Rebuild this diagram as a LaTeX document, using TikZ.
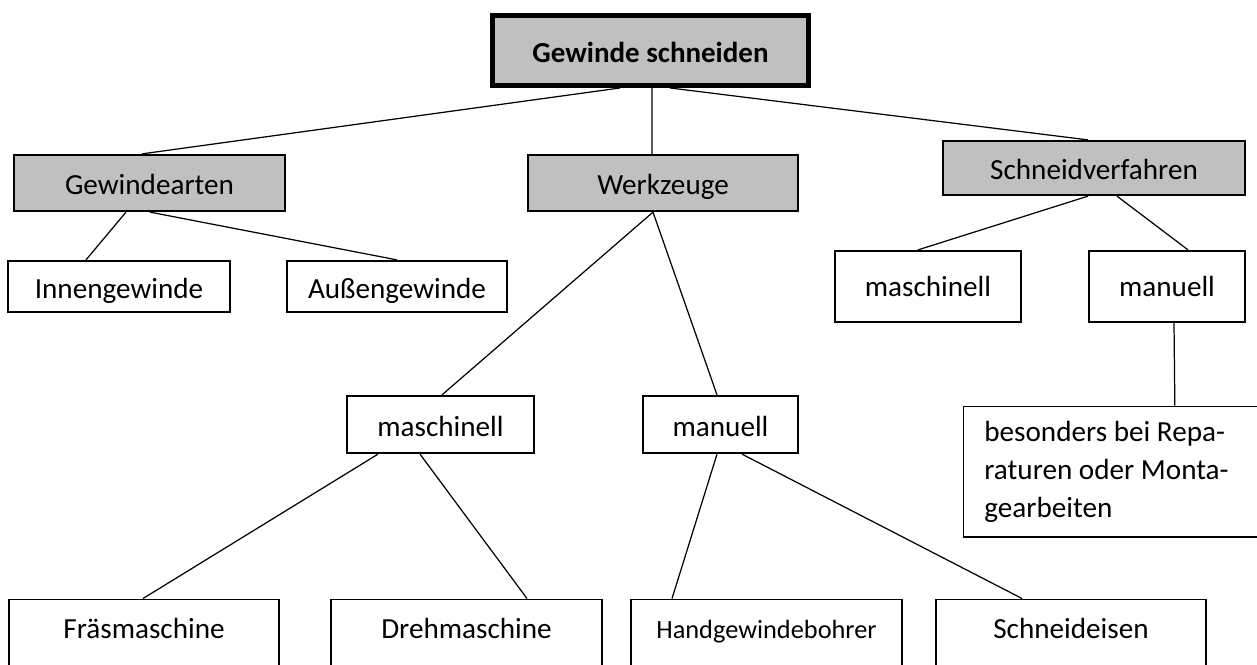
\documentclass[tikz,border=0pt]{standalone}
\usepackage{fontspec}
\setmainfont{Carlito}
\definecolor{kastengrau}{RGB}{192,192,192}
\begin{document}
\begin{tikzpicture}[x=0.02cm,y=-0.02cm,line width=0.7pt,
  kasten/.style={draw,line width=1pt,inner sep=0pt,text height=0.58cm,text depth=0.12cm,
    font=\fontsize{16.6pt}{20.5pt}\selectfont},
  grau/.style={kasten,fill=kastengrau},
  hoch/.style={text height=0.55cm,text depth=0.17cm},
  unten/.style={kasten,anchor=north,minimum width=#1,text height=0.48cm,text depth=1.6cm,
    inner ysep=0.3cm}]
\useasboundingbox (0,0) rectangle (1257,664);
% oberste Ebene
\node (titel) at (650.5,50.5) [grau,line width=2.8pt,minimum width=6.32cm,minimum height=1.4cm,
  font=\fontsize{16.5pt}{20pt}\selectfont\bfseries] {Gewinde schneiden};
\node (arten) at (149.5,183) [grau,minimum width=5.43cm,minimum height=1.13cm] {Gewindearten};
\node (werkzeuge) at (663,183) [grau,minimum width=5.41cm,minimum height=1.13cm] {Werkzeuge};
\node (verfahren) at (1094,168) [grau,minimum width=6.05cm,minimum height=1.09cm] {Schneidverfahren};
% Gewindearten
\node (innen) at (119,286.5) [kasten,minimum width=4.45cm,minimum height=1.03cm] {Innengewinde};
\node (aussen) at (397,286.5) [kasten,minimum width=4.41cm,minimum height=1.03cm] {Außengewinde};
% Schneidverfahren
\node (vmasch) at (928,286.5) [kasten,hoch,minimum width=3.73cm,minimum height=1.43cm] {maschinell};
\node (vman) at (1167,286.5) [kasten,hoch,minimum width=3.13cm,minimum height=1.43cm] {manuell};
\node (besonders) at (962.5,405.5) [kasten,anchor=north west,align=flush left,text width=5.6cm,
  text height=,text depth=,inner xsep=0.42cm,minimum height=2.62cm,
  font=\fontsize{16.6pt}{21.6pt}\selectfont] {besonders bei Repa-\\raturen oder Monta-\\gearbeiten};
% Werkzeuge
\node (wmasch) at (440.5,424.5) [kasten,minimum width=3.75cm,minimum height=1.15cm] {maschinell};
\node (wman) at (720.5,424.5) [kasten,minimum width=3.11cm,minimum height=1.15cm] {manuell};
\node (fraes) at (144,598.5) [unten=5.41cm] {Fräsmaschine};
\node (dreh) at (466.5,598.5) [unten=5.43cm] {Drehmaschine};
\node (hand) at (766.5,598.5) [unten=5.43cm,font=\fontsize{15pt}{18pt}\selectfont] {Handgewindebohrer};
\node (eisen) at (1071,598.5) [unten=5.41cm] {Schneideisen};
% Verbindungen
\draw ([xshift=-0.61cm]titel.south) -- ([xshift=-0.15cm]arten.north);
\draw ([xshift=0.03cm]titel.south) -- ([xshift=-0.22cm]werkzeuge.north);
\draw ([xshift=0.39cm]titel.south) -- ([xshift=-0.12cm]verfahren.north);
\draw ([xshift=-0.47cm]arten.south) -- ([xshift=-0.66cm]innen.north);
\draw ([xshift=0.01cm]arten.south) -- (aussen.north);
\draw ([xshift=-0.12cm]verfahren.south) -- ([xshift=-0.2cm]vmasch.north);
\draw ([xshift=0.46cm]verfahren.south) -- ([xshift=0.42cm]vman.north);
\draw ([xshift=0.14cm]vman.south) -- ([xshift=1.01cm]besonders.north);
\draw ([xshift=-0.2cm]werkzeuge.south) -- ([xshift=0.03cm]wmasch.north);
\draw ([xshift=-0.2cm]werkzeuge.south) -- ([xshift=-0.07cm]wman.north);
\draw ([xshift=-1.25cm]wmasch.south) -- ([xshift=-0.02cm]fraes.north);
\draw ([xshift=-0.41cm]wmasch.south) -- ([xshift=1.21cm]dreh.north);
\draw ([xshift=-0.07cm]wman.south) -- ([xshift=-1.89cm]hand.north);
\draw ([xshift=0.43cm]wman.south) -- ([xshift=-0.98cm]eisen.north);
\end{tikzpicture}
\end{document}
